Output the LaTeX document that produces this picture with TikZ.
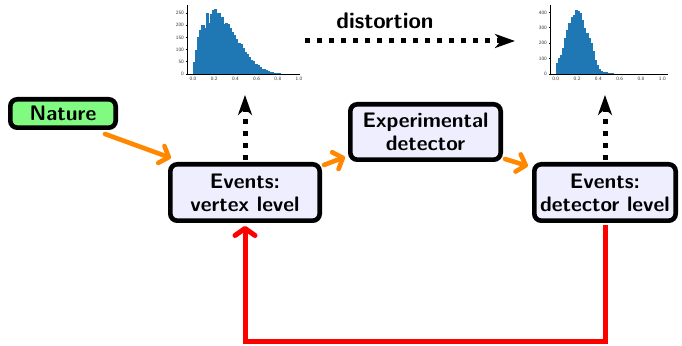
\documentclass[tikz,border=0pt]{standalone}
\usetikzlibrary{arrows.meta}
\definecolor{natgreen}{RGB}{128,250,128}
\definecolor{boxfill}{RGB}{238,238,255}
\definecolor{flow}{RGB}{255,136,0}
\definecolor{histblue}{RGB}{31,119,180}
\tikzset{
  stage/.style={draw=black, line width=2.3pt, rounded corners=3.5pt, fill=boxfill,
    align=center, inner sep=0pt,
    font=\fontsize{10.5}{11.6}\selectfont\sffamily\bfseries},
  startbox/.style={stage, fill=natgreen},
  flowarrow/.style={draw=flow, line width=2.3pt, line cap=round,
    -{Straight Barb[length=4pt,width=9pt,line cap=round,line join=round]}},
  feedback/.style={draw=red, line width=2.5pt,
    -{Straight Barb[length=3.5pt,width=10pt,line cap=round,line join=round]}},
  dotarrow/.style={draw=black, line width=2.5pt, dash pattern=on 2.5pt off 3.5pt,
    -{Stealth[length=10pt,width=7pt,inset=3pt]}},
  steplabel/.style={font=\fontsize{11.3}{13}\selectfont\sffamily\bfseries},
  axisline/.style={draw=black, line width=0.45pt},
  ticklabel/.style={font=\fontsize{2.5}{2.8}\selectfont\sffamily, inner sep=0.6pt, text=black!80}
}
\begin{document}
\begin{tikzpicture}[x=0.5pt, y=-0.5pt]
\useasboundingbox (0,0) rectangle (682,346);

% ---- histogram at vertex level ----
\begin{scope}[shift={(193,74)}]
  \foreach \h [count=\i from 0] in {50,98,150,180,200,190,249,210,245,260,265,250,250,235,205,210,203,190,172,160,145,128,122,105,90,82,70,58,52,40,36,30,22,20,15,12,8,6,4,3,2}
    \fill[histblue, draw=histblue, line width=0.1pt] ({\i*2.12},0) rectangle ({(\i+1)*2.12},{-\h*0.244});
  \draw[axisline] (-6,0) -- (107,0);
  \draw[axisline] (-6,0) -- (-6,-69);
  \foreach \v [count=\k] in {0.0,0.2,0.4,0.6,0.8,1.0}
    \draw[axisline] ({\v*106},0) -- ++(0,1.5) node[below, ticklabel] (hax\k) {\v};
  \foreach \c [count=\k] in {0,50,100,150,200,250}
    \draw[axisline] (-6,{-\c*0.244}) -- ++(-1.5,0) node[left, ticklabel] (hay\k) {\c};
\end{scope}

% ---- histogram at detector level ----
\begin{scope}[shift={(555.7,74)}]
  \foreach \h [count=\i from 0] in {70,100,125,165,230,285,330,370,385,415,410,395,350,300,268,235,200,150,90,55,32,18,12,10,7,5,3}
    \fill[histblue, draw=histblue, line width=0.1pt] ({\i*2.13},0) rectangle ({(\i+1)*2.13},{-\h*0.154});
  \draw[axisline] (-5.7,0) -- (112,0);
  \draw[axisline] (-5.7,0) -- (-5.7,-69);
  \foreach \v [count=\k] in {0.0,0.2,0.4,0.6,0.8,1.0}
    \draw[axisline] ({\v*106.6},0) -- ++(0,1.5) node[below, ticklabel] (dax\k) {\v};
  \foreach \c [count=\k] in {0,100,200,300,400}
    \draw[axisline] (-5.7,{-\c*0.154}) -- ++(-1.5,0) node[left, ticklabel] (day\k) {\c};
\end{scope}

% ---- stages ----
\node[startbox, minimum width=52.7pt, minimum height=14.2pt] (nature) at (63,113.5) {Nature};
\node[stage, minimum width=74.7pt, minimum height=28.2pt] (vertex) at (245,192.5) {Events:\\vertex level};
\node[stage, minimum width=75.2pt, minimum height=27.7pt] (expdet) at (425.5,132) {Experimental\\detector};
\node[stage, minimum width=70.7pt, minimum height=28.2pt] (detlevel) at (605,192.5) {Events:\\detector level};

% ---- free ends ----
\coordinate (vtip) at (245,95);
\coordinate (dtip) at (605,95);
\coordinate (distA) at (305,41);
\coordinate (distB) at (515,41);
\coordinate (loop) at (0,341.5);

\node[steplabel] (distlabel) at (385,21) {distortion};

% ---- data flow ----
\draw[flowarrow] ([xshift=-6.5pt,yshift=-2pt]nature.south east) -- ([xshift=1.5pt,yshift=2pt]vertex.north west);
\draw[flowarrow] ([xshift=1pt,yshift=-1.5pt]vertex.north east) -- ([xshift=-1.5pt,yshift=2.5pt]expdet.south west);
\draw[flowarrow] ([xshift=1pt,yshift=1.5pt]expdet.south east) -- ([xshift=-2pt,yshift=-2pt]detlevel.north west);

% ---- projections onto histograms ----
\draw[dotarrow] ([yshift=1pt]vertex.north) -- (vtip);
\draw[dotarrow] ([yshift=1pt]detlevel.north) -- (dtip);
\draw[dotarrow] (distA) -- (distB);

% ---- unfolding loop ----
\draw[feedback] ([yshift=-1pt]detlevel.south) -- (detlevel.south |- loop) -- (vertex.south |- loop) -- ([yshift=-1.5pt]vertex.south);
\end{tikzpicture}
\end{document}
